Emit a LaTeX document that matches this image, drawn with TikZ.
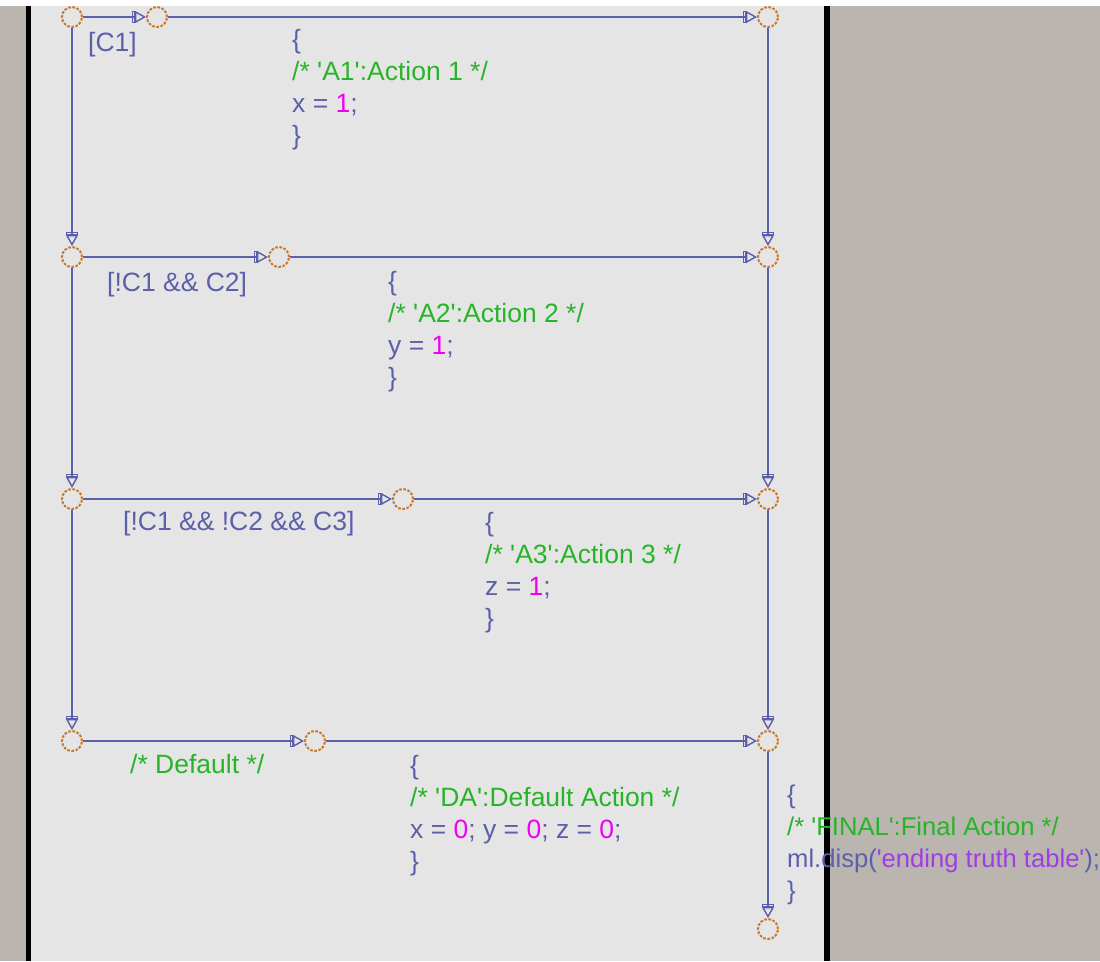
\documentclass[tikz,border=0pt]{standalone}
\usepackage{fontspec}
\setmainfont{Liberation Sans}
\usetikzlibrary{arrows.meta}
\definecolor{flowblue}{RGB}{92,96,170}
\definecolor{junctionorange}{RGB}{200,118,40}
\definecolor{commentgreen}{RGB}{40,180,40}
\definecolor{numpink}{RGB}{240,0,240}
\definecolor{strpurple}{RGB}{160,60,230}
\definecolor{panelgray}{RGB}{229,229,229}
\definecolor{outergray}{RGB}{186,181,174}
\newcommand{\cmt}[1]{\textcolor{commentgreen}{#1}}
\newcommand{\numval}[1]{\textcolor{numpink}{#1}}
\newcommand{\sq}{\textquotesingle}

\begin{document}
\begin{tikzpicture}[
    x=1pt, y=-1pt,
    junction/.style={circle, draw=junctionorange, line width=2pt, dash pattern=on 2.6pt off 1.6pt,
                     minimum size=20pt, inner sep=0pt},
    flow/.style={draw=flowblue, line width=1.8pt,
                 -{Rectangle[open, length=3pt, width=12pt, sep=0pt, line width=1.4pt]
                   Triangle[open, length=11pt, width=12pt, sep=0pt, line width=1.4pt]}},
    code/.style={anchor=base west, inner sep=0pt, align=left, text=flowblue,
                 font=\fontsize{26.5}{32}\selectfont}
]
    \clip (0,0) rectangle (1100,961);
    % background and panel frame
    \fill[outergray] (0,0) rectangle (1100,961);
    \fill[white] (0,0) rectangle (1100,6);
    \fill[panelgray] (31,6) rectangle (824,961);
    \fill[black] (26,6) rectangle (31,961);
    \fill[black] (824,6) rectangle (830,961);

    % junctions
    \foreach \i/\y in {1/17,2/257,3/499,4/741} {
        \node[junction] (l\i) at (72,\y) {};
        \node[junction] (r\i) at (768,\y) {};
    }
    \node[junction] (r5) at (768,929) {};
    \node[junction] (m1) at (157,17) {};
    \node[junction] (m2) at (279,257) {};
    \node[junction] (m3) at (403,499) {};
    \node[junction] (m4) at (315,741) {};

    % transitions
    \foreach \i in {1,...,4} {
        \draw[flow] (l\i) -- (m\i);
        \draw[flow] (m\i) -- (r\i);
    }
    \foreach \i/\j in {1/2,2/3,3/4} \draw[flow] (l\i) -- (l\j);
    \foreach \i/\j in {1/2,2/3,3/4,4/5} \draw[flow] (r\i) -- (r\j);

    % conditions
    \node[code] (c1) at (88,51) {[C1]};
    \node[code] (c2) at (107,291) {[!C1 \&\& C2]};
    \node[code] (c3) at (123,530) {[!C1 \&\& !C2 \&\& C3]};
    \node[code, text=commentgreen] (c4) at (130,773) {/* Default */};

    % actions (anchored at the baseline of the last line)
    \node[code] (a1) at (292,144) {\{\\\cmt{/* \sq A1\sq:Action 1 */}\\x = \numval{1};\\\}};
    \node[code] (a2) at (388,386) {\{\\\cmt{/* \sq A2\sq:Action 2 */}\\y = \numval{1};\\\}};
    \node[code] (a3) at (485,627) {\{\\\cmt{/* \sq A3\sq:Action 3 */}\\z = \numval{1};\\\}};
    \node[code] (a4) at (410,870) {\{\\\cmt{/* \sq DA\sq:Default Action */}\\x = \numval{0}; y = \numval{0}; z = \numval{0};\\\}};
    \node[code, font=\fontsize{25.6}{32}\selectfont] (fin) at (787,899)
        {\{\\\cmt{/* \sq FINAL\sq:Final Action */}\\ml.disp(\textcolor{strpurple}{\sq ending truth table\sq});\\\}};
\end{tikzpicture}
\end{document}
